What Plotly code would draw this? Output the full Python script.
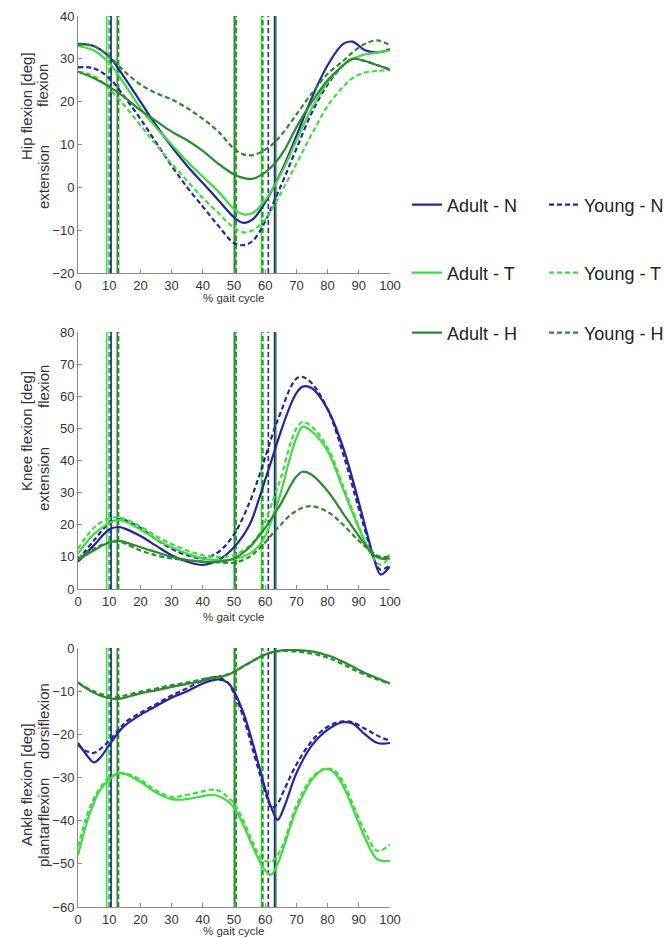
import plotly.graph_objects as go

W, H = 665, 938

# ---------------- data ----------------
groups = ["Adult - N", "Young - N", "Adult - T", "Young - T", "Adult - H", "Young - H"]

hip_x = [0, 5, 10, 15, 20, 25, 30, 35, 40, 45, 50, 53, 56, 60, 63, 66, 70, 75, 80, 85, 88, 92, 96, 100]
hip_adult_n = [33.5, 33, 30.5, 25.5, 20, 14.5, 9.5, 5, 1, -3, -7, -8.3, -7.5, -3.5, 0.5, 5, 12, 21, 28.5, 33.5, 34, 32, 31.5, 32.3]
hip_young_n = [28, 27.8, 25.5, 21, 16, 10.5, 5, 0, -4.5, -9, -13, -13.5, -12.5, -8, -3, 2, 9, 17.5, 24, 28.5, 30, 29.5, 28.5, 27.5]
hip_adult_t = [33, 32, 29, 24, 18.5, 14, 10, 6, 2.5, -1, -5, -6.3, -6, -3, 0.5, 4.5, 11, 18.5, 24.5, 28.5, 30, 31, 31.5, 32]
hip_young_t = [27, 26, 23, 19, 14.5, 10, 5.5, 1.5, -2.5, -6, -9.5, -10.5, -10, -7.5, -4, 0, 5.5, 12.5, 19, 23.5, 25.5, 26.8, 27.2, 27.3]
hip_adult_h = [27, 25.5, 23.5, 21, 18, 15.5, 13, 11, 8.5, 5.5, 3, 2.2, 2, 3.5, 5.5, 8.5, 14, 20, 25, 28.5, 30, 29.5, 28.5, 27.5]
hip_young_h = [33.3, 33, 30.5, 27, 24, 22, 20.5, 18.5, 16, 13, 9, 7.7, 7.5, 8.8, 10.5, 13, 17, 22, 26.5, 29.5, 31.5, 33.5, 34.3, 33.2]

knee_x = [0, 5, 10, 13, 15, 20, 25, 30, 35, 40, 45, 50, 55, 58, 60, 63, 65, 68, 70, 72, 75, 80, 85, 90, 93, 95, 97, 100]
knee_adult_n = [8.5, 13.5, 18.5, 19.3, 18.8, 16.5, 13.5, 10.5, 8.5, 7.5, 9, 13, 20, 28, 34, 43, 49, 57, 61, 63, 62.5, 56, 44, 27, 16, 9, 4.5, 7]
knee_young_n = [9, 15, 20.5, 21.8, 21.5, 19, 15.5, 12.5, 10.5, 9.5, 11.5, 17, 27, 35, 41, 50, 55, 62.5, 65.5, 66, 64, 56, 42, 25, 15, 9, 6, 7.5]
knee_adult_t = [11, 17, 20.5, 21.5, 21, 18.5, 15.5, 13, 11, 9.5, 9, 9.2, 11, 13.5, 16.5, 24, 30, 41, 47, 50.5, 49, 43, 31, 19, 13, 10.5, 9.5, 10.5]
knee_young_t = [12.5, 19, 22, 22.3, 21.8, 19.5, 16.5, 14, 12, 10.5, 10, 10.5, 13.5, 17, 21, 29, 34.5, 45, 50, 52, 50.5, 44, 32, 19.5, 12.5, 9, 7.5, 10]
knee_adult_h = [9, 12, 14.5, 15, 14.6, 13, 11.5, 10, 9, 8.5, 8.5, 9.5, 13, 16.5, 19, 23.5, 26.5, 32, 35, 36.5, 35.5, 30.5, 23.5, 16.5, 12.5, 10.5, 9.5, 9.5]
knee_young_h = [9.5, 12.5, 14.5, 14.8, 14.2, 12, 10.5, 9.5, 9, 8.5, 8.3, 8.2, 10, 12.5, 14.5, 18, 20, 23, 24.3, 25.3, 25.8, 24, 20, 15, 12.5, 11, 10, 10]

ankle_x = [0, 3, 5, 7, 10, 13, 15, 20, 25, 30, 35, 40, 43, 45, 48, 50, 53, 56, 59, 61, 62, 64, 66, 70, 75, 79, 82, 85, 88, 92, 96, 100]
ankle_adult_n = [-22, -25, -26.5, -25.5, -22.5, -19.5, -18, -15.5, -13.5, -11.5, -10, -8.2, -7.5, -7.3, -8, -10, -15, -22, -30, -35, -37, -39.8, -37, -29, -22.5, -19.5, -18, -17.2, -17.5, -20, -22, -22]
ankle_young_n = [-22.5, -24, -24.3, -23.5, -21.5, -19, -17.3, -15, -13, -11, -9.3, -7.5, -6.8, -6.8, -8, -10.5, -16, -23.5, -31, -35.5, -37, -36, -33, -27, -21.5, -18.7, -17.5, -17, -17.2, -18.7, -20.3, -21.5]
ankle_adult_t = [-48, -40, -36, -33, -30.5, -29, -29.2, -31, -33.5, -35, -35, -34.3, -34, -34.3, -35.5, -37, -41, -46, -50.5, -52.3, -52.5, -50, -46, -37.5, -30.5, -28, -28.8, -32, -37, -44, -49, -49.3]
ankle_young_t = [-46, -38.5, -35, -32.5, -30, -29, -29, -30.5, -33, -34.5, -34, -33.2, -32.8, -33, -34.5, -36, -40, -45, -49, -49.5, -49.5, -48, -45, -36.5, -30, -28, -28.3, -31, -36, -42.5, -47, -45.5]
ankle_adult_h = [-8, -9.5, -10.3, -11, -11.6, -11.8, -11.5, -10.5, -9.8, -9, -8.3, -7.6, -7, -6.8, -6.2, -5.5, -4.2, -3, -1.8, -1.2, -1, -0.7, -0.5, -0.5, -0.8, -1.5, -2.2, -3.2, -4.3, -5.8, -7, -8.2]
ankle_young_h = [-8, -9.3, -10, -10.6, -11.1, -11.3, -11, -10.1, -9.4, -8.6, -8, -7.2, -6.8, -6.6, -6.1, -5.5, -4.3, -3, -1.9, -1.3, -1.1, -0.8, -0.7, -0.8, -1.3, -2, -2.8, -3.8, -4.9, -6.2, -7.3, -8.3]

# gait events (% gait cycle), order as in groups
opp_toe_off = [10.6, 10.3, 9.2, 9.9, 12.6, 13.0]
opp_heel_strike = [50.4, 50.3, 50.4, 50.3, 50.1, 50.7]
toe_off = [63.0, 61.0, 58.8, 59.3, 63.4, 59.1]

x_ticks = [0, 10, 20, 30, 40, 50, 60, 70, 80, 90, 100]
hip_ticks = [-20, -10, 0, 10, 20, 30, 40]
knee_ticks = [0, 10, 20, 30, 40, 50, 60, 70, 80]
ankle_ticks = [-60, -50, -40, -30, -20, -10, 0]

# ---------------- styling ----------------
BLUE = "#25259e"
LGREEN = "#3fdc3f"
DGREEN = "#2c8a2f"
colors = [BLUE, BLUE, LGREEN, LGREEN, DGREEN, DGREEN]
dashes = ["solid", "5px,3px", "solid", "5px,3px", "solid", "5px,3px"]
legend_ids = ["legend", "legend", "legend2", "legend2", "legend3", "legend3"]
FONT = "Liberation Sans, Arial, sans-serif"
TXT = "#333333"

panels = [
    ("x", "y", hip_x, [hip_adult_n, hip_young_n, hip_adult_t, hip_young_t, hip_adult_h, hip_young_h]),
    ("x2", "y2", knee_x, [knee_adult_n, knee_young_n, knee_adult_t, knee_young_t, knee_adult_h, knee_young_h]),
    ("x3", "y3", ankle_x, [ankle_adult_n, ankle_young_n, ankle_adult_t, ankle_young_t, ankle_adult_h, ankle_young_h]),
]

fig = go.Figure()

for pi, (xa, ya, xs, series) in enumerate(panels):
    for gi, ys in enumerate(series):
        fig.add_trace(go.Scatter(
            x=xs, y=ys, mode="lines", name=groups[gi],
            line=dict(color=colors[gi], width=2.2, dash=dashes[gi], shape="spline", smoothing=1.0),
            xaxis=xa, yaxis=ya, legend=legend_ids[gi],
            showlegend=(pi == 0), hoverinfo="skip"))
    # gait-event vertical lines
    for gi in range(6):
        for ev in (opp_toe_off[gi], opp_heel_strike[gi], toe_off[gi]):
            fig.add_shape(type="line", xref=xa, yref=f"{ya} domain",
                          x0=ev, x1=ev, y0=0, y1=1, layer="below",
                          line=dict(color=colors[gi], width=1.6, dash=dashes[gi]))


def py(px):
    return 1 - px / H


def pxx(px):
    return px / W


xdom = [pxx(78), pxx(390)]
ydoms = [[py(273), py(16)], [py(589), py(332)], [py(907), py(648)]]
yranges = [[-20, 40], [0, 80], [-60, 0]]
yticks = [hip_ticks, knee_ticks, ankle_ticks]

axis_common = dict(showline=True, linecolor="#8a8a8a", linewidth=1, ticks="inside", ticklen=4,
                   tickcolor="#8a8a8a", showgrid=False, zeroline=False, automargin=False,
                   tickfont=dict(family=FONT, size=13, color=TXT))
layout = dict(width=W, height=H, margin=dict(l=0, r=0, t=0, b=0, autoexpand=False),
              paper_bgcolor="white", plot_bgcolor="white", font=dict(family=FONT, color=TXT))
for i in range(3):
    sx = "" if i == 0 else str(i + 1)
    layout[f"xaxis{sx}"] = dict(axis_common, domain=xdom, range=[0, 100], tickvals=x_ticks,
                                anchor=f"y{sx}")
    layout[f"yaxis{sx}"] = dict(axis_common, domain=ydoms[i], range=yranges[i], tickvals=yticks[i],
                                anchor=f"x{sx}")

leg_common = dict(orientation="h", xanchor="left", yanchor="middle", x=pxx(407),
                  font=dict(family=FONT, size=18, color="#222222"), bgcolor="rgba(0,0,0,0)",
                  itemwidth=30, entrywidth=92, traceorder="normal")
layout["legend"] = dict(leg_common, y=py(205))
layout["legend2"] = dict(leg_common, y=py(273))
layout["legend3"] = dict(leg_common, y=py(333))

fig.update_layout(**layout)

annots = []
for yc in (298, 617, 931):
    annots.append(dict(text="% gait cycle", x=pxx(233), y=py(yc)))
labels = [
    ("Hip flexion [deg]", 27, 106), ("flexion", 43, 86), ("extension", 43, 177),
    ("Knee flexion [deg]", 26, 431), ("flexion", 43, 387), ("extension", 43, 479),
    ("Ankle flexion [deg]", 26, 785), ("dorsiflexion", 43, 721), ("plantarflexion", 43, 823),
]
for t, xpx, ypx in labels:
    annots.append(dict(text=t, x=pxx(xpx), y=py(ypx), textangle=-90, font=dict(size=15, family=FONT, color=TXT)))
for a in annots:
    a.setdefault("font", dict(size=11.5, family=FONT, color=TXT))
    fig.add_annotation(xref="paper", yref="paper", showarrow=False, xanchor="center", yanchor="middle", **a)

fig.write_html("out.html", config={"displayModeBar": False},
               post_script="document.body.style.margin='0px';document.body.style.overflow='hidden';")
